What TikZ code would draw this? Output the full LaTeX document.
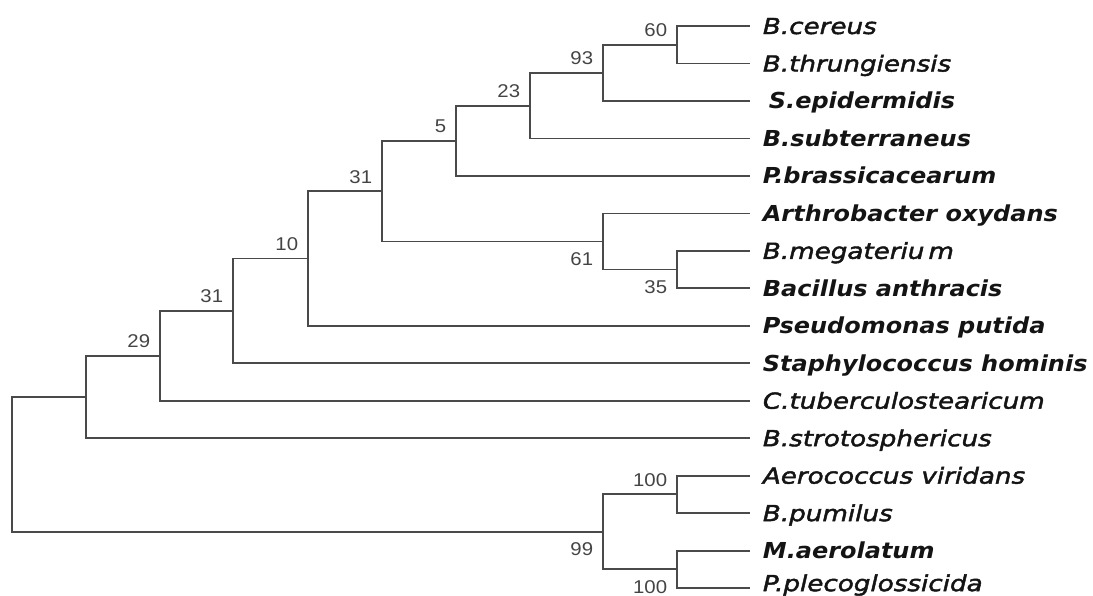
\documentclass[tikz,border=0pt]{standalone}
\usepackage{fontspec}
\newfontfamily\taxfont[FakeStretch=1.19,FakeBold=2]{DejaVu Sans}
\newfontfamily\taxboldfont[FakeStretch=1.09]{DejaVu Sans}
\newfontfamily\suppfont[FakeStretch=1.1]{Liberation Sans}
\definecolor{branchgray}{HTML}{4A4A4A}
\definecolor{suppgray}{HTML}{444444}
\definecolor{taxink}{HTML}{141414}

\begin{document}
\begin{tikzpicture}[x=1pt,y=-1pt,line width=1.8pt]
  \tikzstyle{taxon}=[anchor=west,inner xsep=12pt,inner ysep=0pt,
    text height=17pt,text depth=1pt,text=taxink,
    font=\fontsize{22}{24}\taxfont\itshape]
  \tikzstyle{taxonb}=[taxon,font=\fontsize{22}{24}\taxboldfont\bfseries\itshape]
  \tikzstyle{supup}=[anchor=south east,inner sep=0pt,xshift=-9pt,yshift=7pt,
    text=suppgray,font=\fontsize{18.5}{20}\suppfont]
  \tikzstyle{supdown}=[anchor=north east,inner sep=0pt,xshift=-9pt,yshift=-10pt,
    text=suppgray,font=\fontsize{18.5}{20}\suppfont]
  \tikzstyle{branch}=[draw=branchgray,to path={|- (\tikztotarget) \tikztonodes}]

  \useasboundingbox (0,0) rectangle (1093,595);

  \node[taxon]  (cer) at (750,26.0)  {B.cereus};
  \node[taxon]  (thr) at (750,63.5)  {B.thrungiensis};
  \node[taxonb] (epi) at (750,100.9) {\kern6pt S.epidermidis};
  \node[taxonb] (sub) at (750,138.4) {B.subterraneus};
  \node[taxonb] (bra) at (750,175.9) {P.brassicacearum};
  \node[taxonb] (oxy) at (750,213.4) {Arthrobacter oxydans};
  \node[taxon]  (meg) at (750,250.8) {B.megateriu\kern4pt m};
  \node[taxonb] (ant) at (750,288.3) {Bacillus anthracis};
  \node[taxonb] (put) at (750,325.8) {Pseudomonas putida};
  \node[taxonb] (hom) at (750,363.2) {Staphylococcus hominis};
  \node[taxon]  (tub) at (750,400.7) {C.tuberculostearicum};
  \node[taxon]  (str) at (750,438.2) {B.strotosphericus};
  \node[taxon]  (vir) at (750,475.6) {Aerococcus viridans};
  \node[taxon]  (pum) at (750,513.1) {B.pumilus};
  \node[taxonb] (aer) at (750,550.6) {M.aerolatum};
  \node[taxon]  (ple) at (750,588.1) {\raisebox{5pt}{P.plecoglossicida}};

  \coordinate (n60)   at (677,44.75);
  \coordinate (n93)   at (603,72.8);
  \coordinate (n23)   at (530,105.6);
  \coordinate (n5)    at (456,140.75);
  \coordinate (n35)   at (677,269.55);
  \coordinate (n61)   at (603,241.5);
  \coordinate (n31a)  at (382,191.1);
  \coordinate (n10)   at (308,258.45);
  \coordinate (n31b)  at (233,310.8);
  \coordinate (n29)   at (160,355.75);
  \coordinate (nU)    at (86,397);
  \coordinate (n100a) at (677,494.35);
  \coordinate (n100b) at (677,569.35);
  \coordinate (n99)   at (603,531.85);
  \coordinate (root)  at (12,464.4);

  \draw[branch]
        (n60)   edge (cer)   edge (thr)
        (n93)   edge (n60)   edge (epi)
        (n23)   edge (n93)   edge (sub)
        (n5)    edge (n23)   edge (bra)
        (n35)   edge (meg)   edge (ant)
        (n61)   edge (oxy)   edge (n35)
        (n31a)  edge (n5)    edge (n61)
        (n10)   edge (n31a)  edge (put)
        (n31b)  edge (n10)   edge (hom)
        (n29)   edge (n31b)  edge (tub)
        (nU)    edge (n29)   edge (str)
        (n100a) edge (vir)   edge (pum)
        (n100b) edge (aer)   edge (ple)
        (n99)   edge (n100a) edge (n100b)
        (root)  edge (nU)    edge (n99);

  \node[supup]   (s60)   at (n60)   {60};
  \node[supup]   (s93)   at (n93)   {93};
  \node[supup]   (s23)   at (n23)   {23};
  \node[supup]   (s5)    at (n5)    {5};
  \node[supup]   (s31a)  at (n31a)  {31};
  \node[supdown] (s61)   at (n61)   {61};
  \node[supdown] (s35)   at (n35)   {35};
  \node[supup]   (s10)   at (n10)   {10};
  \node[supup]   (s31b)  at (n31b)  {31};
  \node[supup]   (s29)   at (n29)   {29};
  \node[supup]   (s100a) at (n100a) {100};
  \node[supdown] (s99)   at (n99)   {99};
  \node[supdown] (s100b) at (n100b) {100};
\end{tikzpicture}
\end{document}
